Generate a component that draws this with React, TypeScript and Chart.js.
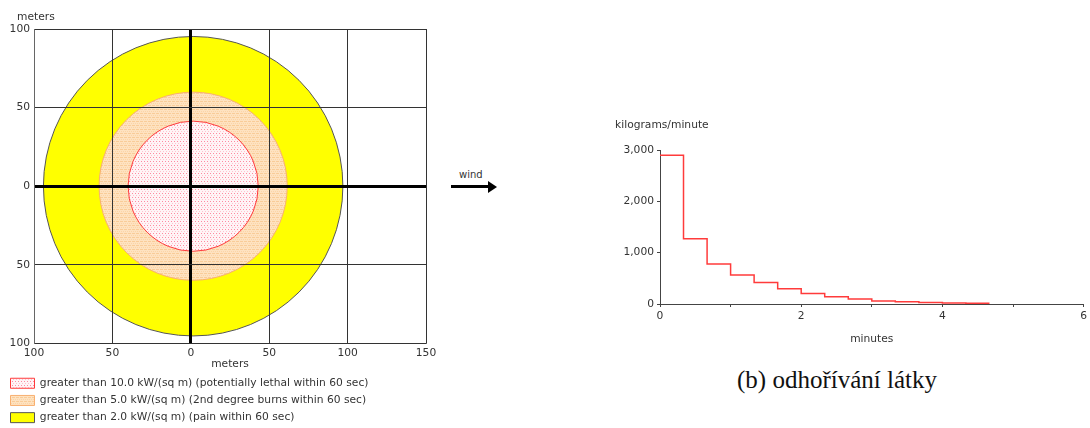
import React, { useEffect, useRef } from "react";
import { Chart, registerables } from "chart.js";

Chart.register(...registerables);

// ---------- Left chart: threat zones ----------
const ZONE_LABELS = [
  "greater than 10.0 kW/(sq m) (potentially lethal within 60 sec)",
  "greater than 5.0 kW/(sq m) (2nd degree burns within 60 sec)",
  "greater than 2.0 kW/(sq m) (pain within 60 sec)",
];
const ZONE_RADII = [41.5, 60, 95.5]; // meters
const ZONE_CENTER_X = [1.5, 1.5, 1.5];
const ZONE_CENTER_Y = [0, 0, 0];
const ZONE_BORDERS = ["#ff3b3b", "#f9b070", "#555555"];
const MAP_X_RANGE = [-100, 150];
const MAP_Y_RANGE = [-100, 100];
const MAP_STEP = 50;

// ---------- Right chart: burn rate ----------
const MINUTES = [0, 0.333, 0.667, 1.0, 1.333, 1.667, 2.0, 2.333, 2.667, 3.0, 3.333, 3.667, 4.0, 4.333, 4.667];
const RATE = [2900, 1270, 780, 565, 420, 295, 205, 140, 97, 58, 45, 27, 18, 15, 15];
const RATE_X_RANGE = [0, 6];
const RATE_Y_RANGE = [0, 3000];

const FONT = '"DejaVu Sans", Verdana, sans-serif';
const FS = 10.7;
const TXT = "#333333";

function makePattern(kind: "red" | "orange"): CanvasPattern | string {
  const c = document.createElement("canvas");
  const g = c.getContext("2d");
  if (!g) return kind === "red" ? "#ffe6ea" : "#fddcb4";
  if (kind === "red") {
    c.width = 3;
    c.height = 4;
    g.fillStyle = "#fff4f6";
    g.fillRect(0, 0, 3, 4);
    g.fillStyle = "#ff8aa0";
    g.fillRect(0, 1, 1, 1);
    g.fillStyle = "#ffc2ce";
    g.fillRect(1, 3, 1, 1);
  } else {
    c.width = 4;
    c.height = 4;
    g.fillStyle = "#fee2c0";
    g.fillRect(0, 0, 4, 4);
    g.fillStyle = "#f9cc98";
    g.fillRect(0, 1, 3, 1);
    g.fillStyle = "#fbd4a6";
    g.fillRect(1, 3, 1, 1);
    g.fillRect(3, 3, 1, 1);
  }
  const p = g.createPattern(c, "repeat");
  return p || (kind === "red" ? "#ffe6ea" : "#fddcb4");
}

const cornerText = (id: string, text: string, x: number, y: number) => ({
  id,
  afterDraw(chart: any) {
    const c = chart.ctx;
    c.save();
    c.font = `${FS}px ${FONT}`;
    c.fillStyle = TXT;
    c.textBaseline = "middle";
    c.textAlign = "left";
    c.fillText(text, x, y);
    c.restore();
  },
});

function ZoneChart() {
  const ref = useRef<HTMLCanvasElement>(null);
  useEffect(() => {
    if (!ref.current) return;
    const fills = [makePattern("red"), makePattern("orange"), "#ffff00"];
    const gridColor = (ctx: any) => (ctx.tick && ctx.tick.value === 0 ? "#000000" : "#333333");
    const gridWidth = (ctx: any) => (ctx.tick && ctx.tick.value === 0 ? 3 : 1);
    const chart = new Chart(ref.current, {
      type: "scatter",
      data: {
        datasets: ZONE_LABELS.map((label, i) => ({
          label,
          data: [{ x: ZONE_CENTER_X[i], y: ZONE_CENTER_Y[i] }],
          showLine: false,
          backgroundColor: fills[i],
          borderColor: ZONE_BORDERS[i],
          borderWidth: 1,
          pointBackgroundColor: fills[i],
          pointBorderColor: ZONE_BORDERS[i],
          pointBorderWidth: 1,
          pointStyle: "circle",
          clip: false,
          pointRadius: (ctx: any) => {
            const s = ctx.chart.scales && ctx.chart.scales.x;
            if (!s) return 0;
            const r = Math.abs(s.getPixelForValue(ZONE_RADII[i]) - s.getPixelForValue(0));
            return Number.isFinite(r) ? r : 0;
          },
        })),
      } as any,
      options: {
        responsive: false,
        animation: false,
        events: [],
        layout: { padding: { left: 4, right: 14, top: 29, bottom: 0 }, autoPadding: false },
        scales: {
          x: {
            type: "linear",
            min: MAP_X_RANGE[0],
            max: MAP_X_RANGE[1],
            afterFit: (s: any) => {
              s.height = 28;
            },
            ticks: {
              stepSize: MAP_STEP,
              padding: 3,
              maxRotation: 0,
              color: TXT,
              font: { family: FONT, size: FS },
              callback: (v: any) => String(Math.abs(Number(v))),
            },
            grid: { z: 1, drawTicks: false, color: gridColor, lineWidth: gridWidth },
            border: { z: 1, color: "#666666", width: 1 },
            title: {
              display: true,
              text: "meters",
              color: TXT,
              font: { family: FONT, size: FS },
              padding: { top: 0, bottom: 1 },
            },
          },
          y: {
            type: "linear",
            min: MAP_Y_RANGE[0],
            max: MAP_Y_RANGE[1],
            afterFit: (s: any) => {
              s.width = 30;
            },
            ticks: {
              stepSize: MAP_STEP,
              padding: 4,
              color: TXT,
              font: { family: FONT, size: FS },
              callback: (v: any) => String(Math.abs(Number(v))),
            },
            grid: { z: 1, drawTicks: false, color: gridColor, lineWidth: gridWidth },
            border: { z: 1, color: "#666666", width: 1 },
          },
        },
        plugins: {
          legend: {
            display: true,
            position: "bottom",
            align: "start",
            labels: {
              boxWidth: 24,
              boxHeight: 10,
              padding: 6.5,
              color: TXT,
              font: { family: FONT, size: FS },
            },
          },
          tooltip: { enabled: false },
        },
      } as any,
      plugins: [cornerText("zoneTitle", "meters", 17, 17)],
    });
    return () => chart.destroy();
  }, []);
  return (
    <div style={{ position: "absolute", left: 0, top: 0, width: 440, height: 428, overflow: "hidden" }}>
      <canvas ref={ref} width={440} height={433} style={{ display: "block" }} />
    </div>
  );
}

function RateChart() {
  const ref = useRef<HTMLCanvasElement>(null);
  useEffect(() => {
    if (!ref.current) return;
    const chart = new Chart(ref.current, {
      type: "line",
      data: {
        datasets: [
          {
            label: "kilograms/minute",
            data: MINUTES.map((m, i) => ({ x: m, y: RATE[i] })),
            borderColor: "#ff3b3b",
            borderWidth: 1.5,
            stepped: "before",
            pointRadius: 0,
            fill: false,
          },
        ],
      } as any,
      options: {
        responsive: false,
        animation: false,
        events: [],
        layout: { padding: { left: 0, right: 6, top: 50, bottom: 14 } },
        scales: {
          x: {
            type: "linear",
            min: RATE_X_RANGE[0],
            max: RATE_X_RANGE[1],
            afterFit: (s: any) => {
              s.height = 42;
            },
            ticks: {
              stepSize: 1,
              autoSkip: false,
              padding: 3,
              maxRotation: 0,
              color: TXT,
              font: { family: FONT, size: FS },
              callback: (v: any) => (Number(v) % 2 === 0 ? String(v) : ""),
            },
            grid: { drawOnChartArea: false, drawTicks: true, tickLength: 3, color: "#444444" },
            border: { color: "#444444", width: 1 },
            title: {
              display: true,
              text: "minutes",
              color: TXT,
              font: { family: FONT, size: FS },
              padding: { top: 0, bottom: 0 },
            },
          },
          y: {
            type: "linear",
            min: RATE_Y_RANGE[0],
            max: RATE_Y_RANGE[1],
            afterFit: (s: any) => {
              s.width = 60;
            },
            ticks: {
              stepSize: 1000,
              padding: 3,
              color: TXT,
              font: { family: FONT, size: FS },
              callback: (v: any) => Number(v).toLocaleString("en-US"),
            },
            grid: { drawOnChartArea: false, drawTicks: true, tickLength: 3, color: "#444444" },
            border: { color: "#444444", width: 1 },
          },
        },
        plugins: { legend: { display: false }, tooltip: { enabled: false } },
      } as any,
      plugins: [cornerText("rateTitle", "kilograms/minute", 15, 25)],
    });
    return () => chart.destroy();
  }, []);
  return (
    <div style={{ position: "absolute", left: 600, top: 100, width: 490, height: 260 }}>
      <canvas ref={ref} width={490} height={260} style={{ display: "block" }} />
    </div>
  );
}

export default function App() {
  return (
    <div style={{ position: "absolute", left: 0, top: 0, width: 1090, height: 428, overflow: "hidden", background: "#fff" }}>
      <ZoneChart />
      <div
        style={{
          position: "absolute",
          left: 459,
          top: 169,
          fontFamily: FONT,
          fontSize: 10,
          lineHeight: "12px",
          color: TXT,
        }}
      >
        wind
      </div>
      <div style={{ position: "absolute", left: 451, top: 185, width: 38, height: 3, background: "#000" }} />
      <div
        style={{
          position: "absolute",
          left: 488,
          top: 180.5,
          width: 0,
          height: 0,
          borderLeft: "9px solid #000",
          borderTop: "6px solid transparent",
          borderBottom: "6px solid transparent",
        }}
      />
      <RateChart />
      <div
        style={{
          position: "absolute",
          left: 737,
          top: 367,
          fontFamily: '"Liberation Serif", "DejaVu Serif", serif',
          fontSize: 25,
          lineHeight: "25px",
          color: "#111",
          whiteSpace: "nowrap",
        }}
      >
        (b) odhořívání látky
      </div>
    </div>
  );
}
